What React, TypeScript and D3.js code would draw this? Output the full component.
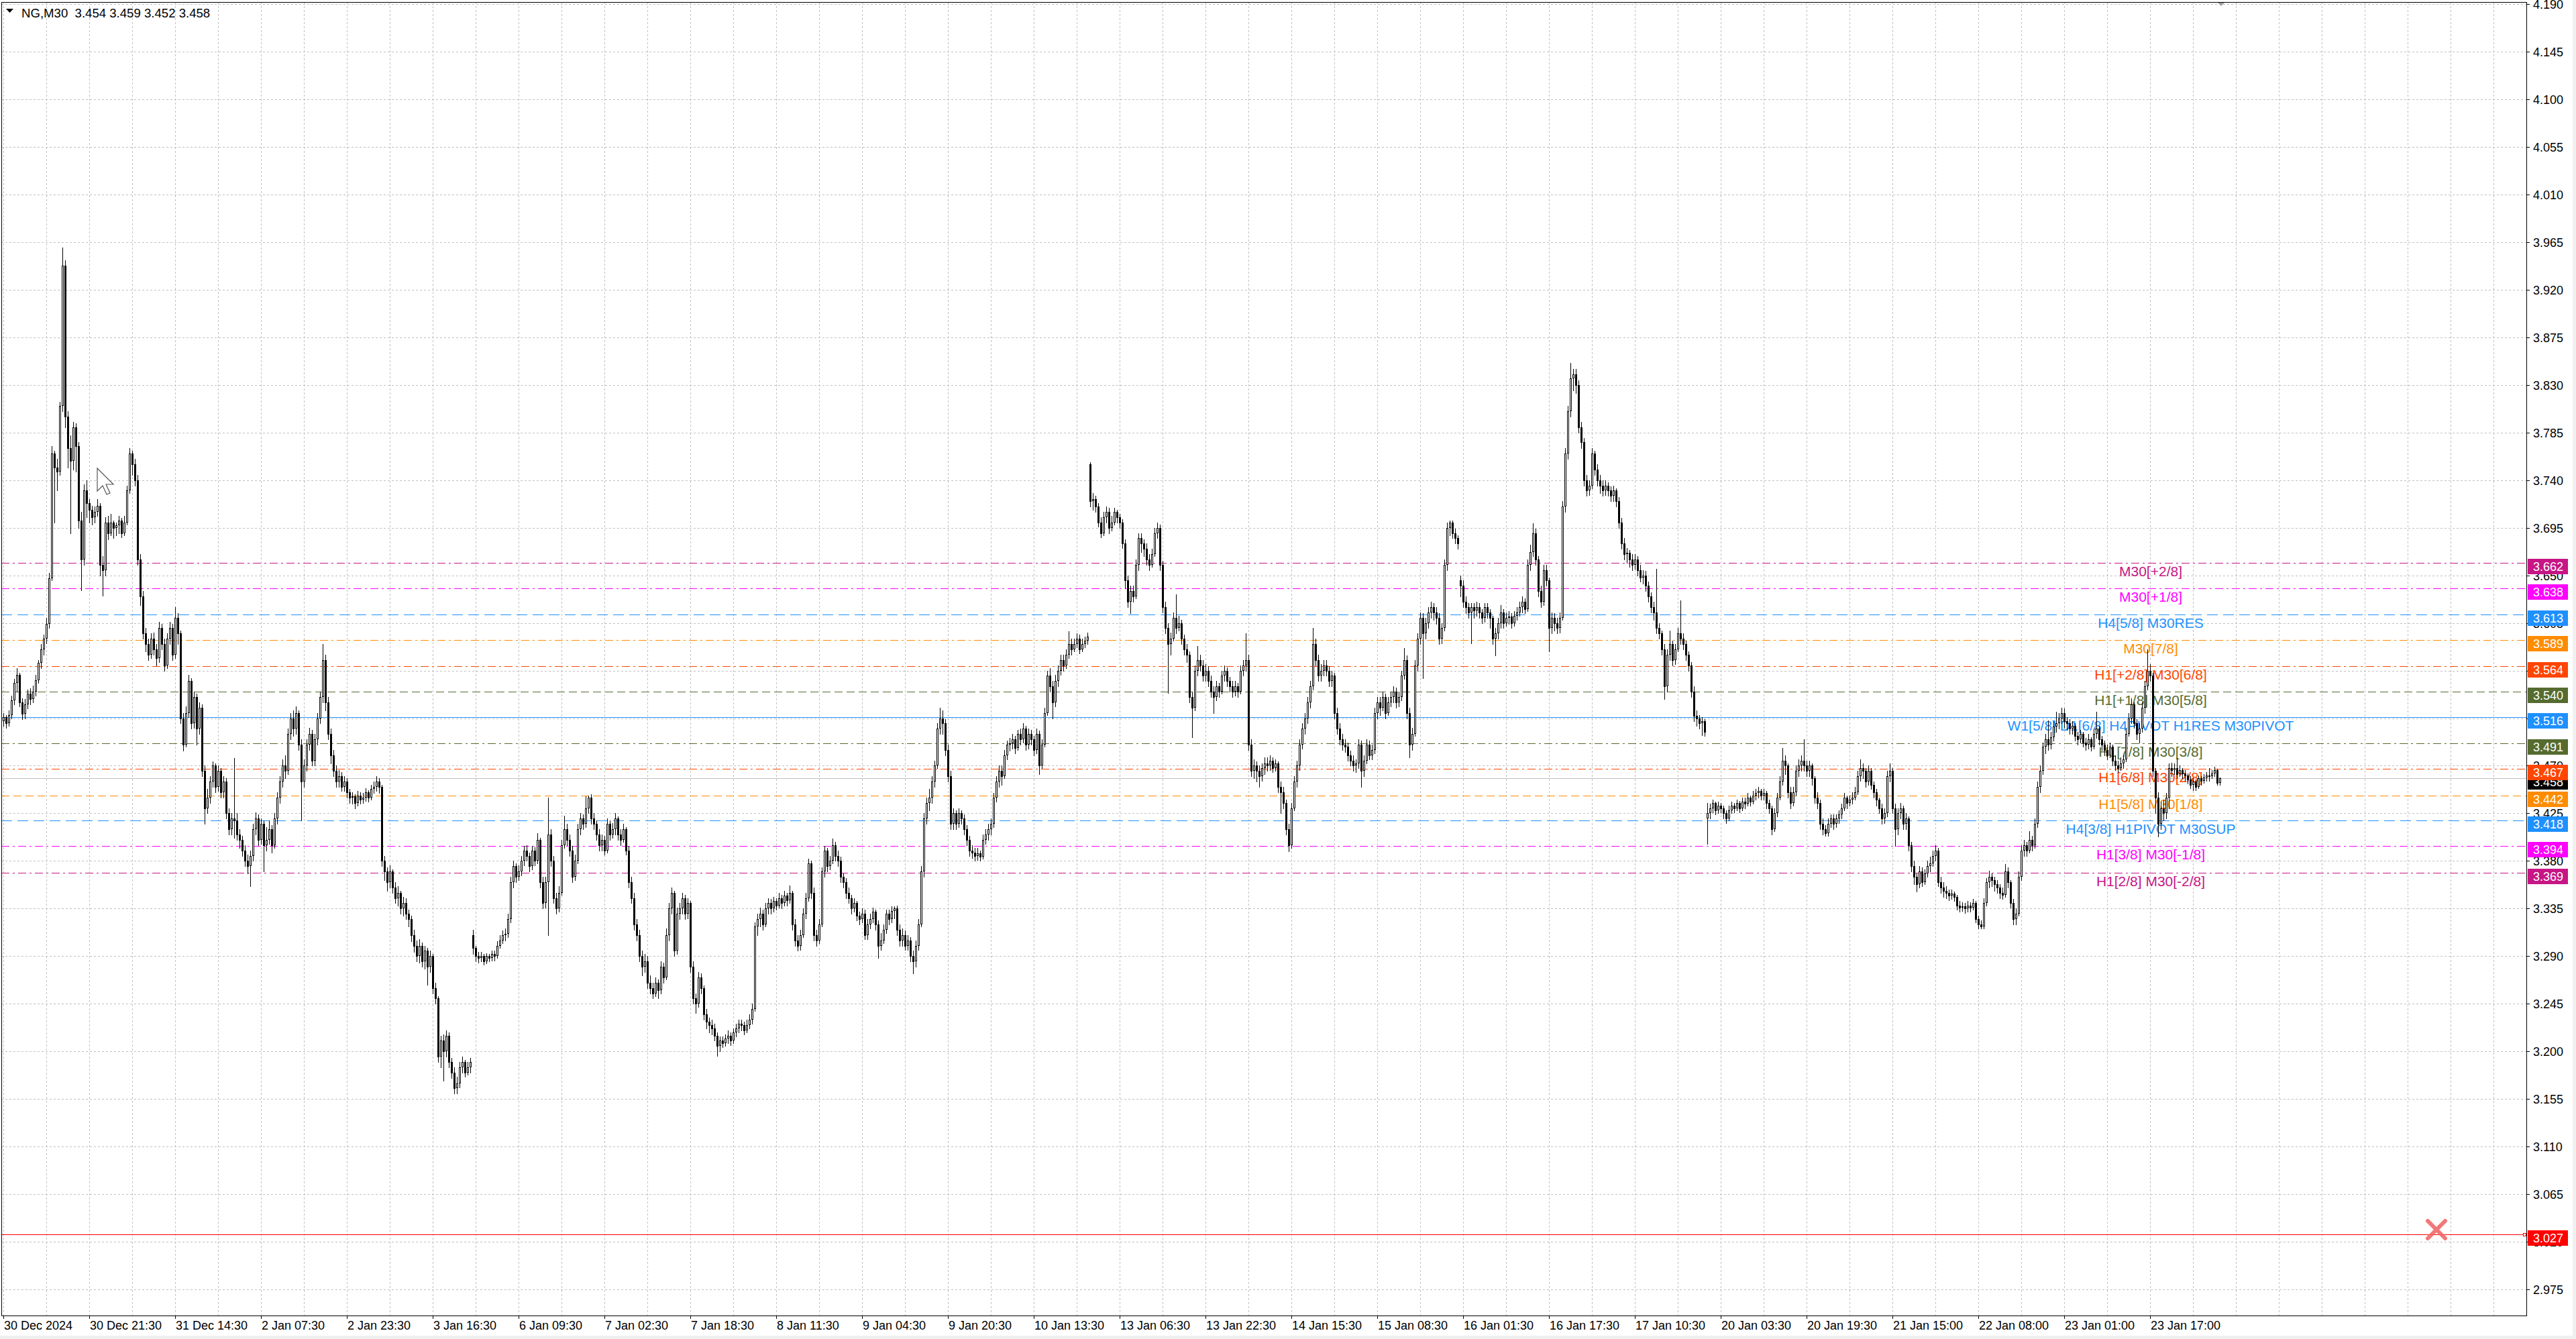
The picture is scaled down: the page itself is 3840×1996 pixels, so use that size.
import React from "react";
import * as d3 from "d3";

// ---- M30 bars per trading session: [open, high, low, close] in thousandths ----
const dec30 = [[3512,3520,3508,3516],[3516,3518,3506,3510],[3510,3522,3508,3518],[3518,3536,3515,3532],[3532,3552,3528,3548],[3548,3562,3540,3556],[3556,3558,3526,3530],[3530,3534,3514,3519],[3519,3533,3515,3528],[3528,3542,3524,3538],[3538,3543,3528,3533],[3533,3546,3530,3540],[3540,3556,3536,3551],[3551,3570,3548,3567],[3567,3585,3562,3580],[3580,3594,3575,3590],[3590,3610,3586,3604],[3604,3652,3600,3647],[3647,3772,3645,3765],[3765,3768,3700,3752],[3752,3760,3730,3748],[3748,3814,3745,3810],[3810,3960,3805,3943],[3943,3948,3790,3800],[3800,3805,3752,3770],[3770,3782,3690,3758],[3758,3795,3750,3790],[3790,3794,3748,3772],[3772,3776,3695,3702],[3702,3710,3636,3665],[3665,3736,3660,3730],[3730,3740,3705,3718],[3718,3722,3700,3712],[3712,3716,3698,3705],[3705,3715,3700,3710],[3710,3722,3706,3716],[3716,3718,3650,3660]];
const dec31 = [[3660,3668,3631,3655],[3655,3705,3650,3700],[3700,3706,3684,3690],[3690,3708,3688,3700],[3700,3702,3685,3695],[3695,3700,3688,3697],[3697,3706,3690,3702],[3702,3704,3686,3690],[3690,3706,3688,3700],[3700,3735,3698,3730],[3730,3770,3728,3765],[3765,3768,3745,3755],[3755,3760,3735,3740],[3740,3745,3660,3665],[3665,3670,3622,3630],[3630,3635,3590,3595],[3595,3600,3578,3585],[3585,3590,3570,3575],[3575,3595,3572,3590],[3590,3596,3575,3580],[3580,3585,3565,3572],[3572,3606,3568,3600],[3600,3604,3580,3585],[3585,3590,3560,3565],[3565,3595,3562,3590],[3590,3606,3585,3600],[3600,3604,3570,3575],[3575,3620,3572,3610],[3610,3614,3585,3595],[3595,3598,3510,3515],[3515,3520,3484,3490],[3490,3526,3488,3520],[3520,3556,3516,3550],[3550,3553,3505,3510],[3510,3540,3506,3535],[3535,3538,3490,3505],[3505,3530,3500,3525],[3525,3528,3460,3465],[3465,3470,3415,3430],[3430,3448,3425,3440],[3440,3460,3435,3455],[3455,3474,3450,3470],[3470,3472,3445,3450],[3450,3470,3446,3465],[3465,3468,3440,3445],[3445,3460,3440,3455]];
const jan02 = [[3455,3458,3420,3425],[3425,3430,3405,3410],[3410,3425,3405,3420],[3420,3477,3402,3418],[3418,3425,3400,3405],[3405,3410,3392,3400],[3400,3404,3385,3390],[3390,3395,3375,3380],[3380,3386,3368,3375],[3375,3390,3356,3385],[3385,3415,3380,3410],[3410,3426,3405,3420],[3420,3424,3395,3400],[3400,3420,3396,3415],[3415,3418,3370,3395],[3395,3412,3390,3400],[3400,3418,3396,3410],[3410,3414,3388,3395],[3395,3425,3392,3420],[3420,3445,3415,3440],[3440,3460,3435,3455],[3455,3476,3450,3470],[3470,3480,3458,3465],[3465,3505,3462,3500],[3500,3520,3495,3515],[3515,3522,3498,3505],[3505,3526,3500,3520],[3520,3522,3485,3490],[3490,3495,3418,3455],[3455,3476,3450,3470],[3470,3495,3465,3490],[3490,3506,3485,3500],[3500,3504,3470,3475],[3475,3500,3470,3495],[3495,3520,3490,3515],[3515,3540,3510,3535],[3535,3585,3530,3570],[3570,3575,3522,3530],[3530,3535,3495,3500],[3500,3505,3472,3480],[3480,3485,3460,3465],[3465,3470,3450,3455],[3455,3466,3450,3460],[3460,3464,3446,3450],[3450,3460,3446,3455],[3455,3458,3440,3445]];
const jan03 = [[3445,3448,3435,3440],[3440,3445,3434,3441],[3441,3443,3430,3435],[3435,3446,3432,3442],[3442,3445,3434,3438],[3438,3444,3435,3440],[3440,3449,3437,3445],[3445,3447,3436,3440],[3440,3452,3438,3448],[3448,3455,3444,3450],[3450,3460,3446,3455],[3455,3458,3444,3450],[3450,3452,3375,3380],[3380,3385,3362,3370],[3370,3374,3352,3360],[3360,3376,3355,3370],[3370,3372,3350,3355],[3355,3360,3340,3345],[3345,3356,3338,3350],[3350,3352,3330,3335],[3335,3346,3328,3340],[3340,3345,3325,3330],[3330,3334,3318,3325],[3325,3328,3304,3310],[3310,3315,3294,3300],[3300,3305,3285,3290],[3290,3306,3284,3300],[3300,3303,3280,3285],[3285,3300,3278,3295],[3295,3298,3263,3280],[3280,3295,3275,3290],[3290,3292,3255,3260],[3260,3265,3245,3250],[3250,3252,3190,3195],[3195,3215,3185,3210],[3210,3216,3172,3200],[3200,3220,3195,3215],[3215,3218,3185,3190],[3190,3194,3175,3180],[3180,3185,3160,3165],[3165,3176,3160,3170],[3170,3190,3166,3185],[3185,3195,3180,3190],[3190,3192,3176,3180],[3180,3190,3178,3185],[3185,3194,3180,3190]];
const jan06 = [[3310,3315,3292,3298],[3298,3300,3285,3290],[3290,3294,3284,3288],[3288,3294,3285,3290],[3290,3292,3282,3285],[3285,3293,3283,3290],[3290,3292,3285,3288],[3288,3295,3286,3292],[3292,3295,3286,3290],[3290,3304,3288,3300],[3300,3310,3298,3305],[3305,3314,3302,3310],[3310,3316,3305,3311],[3311,3330,3308,3325],[3325,3365,3322,3360],[3360,3380,3355,3375],[3375,3378,3360,3365],[3365,3376,3362,3370],[3370,3385,3366,3380],[3380,3394,3376,3390],[3390,3395,3380,3385],[3385,3388,3370,3375],[3375,3394,3372,3390],[3390,3393,3376,3380],[3380,3406,3378,3400],[3400,3402,3355,3360],[3360,3365,3335,3340],[3340,3365,3336,3360],[3360,3440,3310,3405],[3405,3410,3375,3380],[3380,3385,3340,3345],[3345,3350,3330,3335],[3335,3356,3332,3350],[3350,3400,3348,3395],[3395,3423,3392,3410],[3410,3415,3395,3400],[3400,3405,3385,3390],[3390,3394,3360,3365],[3365,3386,3362,3380],[3380,3415,3378,3410],[3410,3425,3405,3420],[3420,3424,3410,3415],[3415,3441,3412,3430],[3430,3442,3425,3440],[3440,3443,3415,3420],[3420,3425,3410,3415]];
const jan07 = [[3415,3418,3400,3405],[3405,3410,3390,3395],[3395,3405,3390,3400],[3400,3404,3386,3390],[3390,3420,3388,3415],[3415,3418,3400,3405],[3405,3416,3402,3410],[3410,3425,3405,3420],[3420,3422,3400,3405],[3405,3410,3395,3400],[3400,3415,3398,3410],[3410,3412,3386,3390],[3390,3394,3355,3360],[3360,3365,3340,3345],[3345,3350,3315,3320],[3320,3325,3305,3310],[3310,3315,3285,3290],[3290,3295,3272,3280],[3280,3292,3275,3285],[3285,3290,3260,3265],[3265,3272,3255,3260],[3260,3265,3250,3255],[3255,3270,3252,3265],[3265,3268,3250,3258],[3258,3285,3255,3280],[3280,3284,3265,3270],[3270,3316,3268,3310],[3310,3340,3305,3335],[3335,3355,3330,3350],[3350,3352,3290,3295],[3295,3336,3292,3330],[3330,3340,3325,3335],[3335,3350,3330,3345],[3345,3348,3325,3330],[3330,3345,3326,3340],[3340,3342,3275,3280],[3280,3285,3245,3250],[3250,3255,3236,3245],[3245,3275,3242,3270],[3270,3274,3255,3260],[3260,3262,3230,3235],[3235,3240,3222,3228],[3228,3232,3218,3225],[3225,3230,3216,3222],[3222,3226,3210,3215],[3215,3218,3196,3205]];
const jan08 = [[3205,3214,3200,3210],[3210,3214,3204,3208],[3208,3216,3205,3212],[3212,3220,3208,3215],[3215,3218,3206,3210],[3210,3222,3208,3218],[3218,3226,3214,3222],[3222,3230,3218,3226],[3226,3230,3220,3225],[3225,3228,3216,3220],[3220,3230,3218,3225],[3225,3235,3222,3230],[3230,3245,3226,3240],[3240,3322,3238,3318],[3318,3330,3310,3325],[3325,3336,3318,3330],[3330,3334,3315,3320],[3320,3340,3318,3335],[3335,3345,3330,3340],[3340,3344,3330,3335],[3335,3346,3332,3342],[3342,3345,3334,3338],[3338,3350,3336,3345],[3345,3348,3335,3340],[3340,3352,3338,3347],[3347,3350,3338,3343],[3343,3357,3340,3350],[3350,3352,3315,3320],[3320,3325,3300,3305],[3305,3310,3295,3300],[3300,3315,3296,3310],[3310,3335,3308,3330],[3330,3350,3326,3345],[3345,3382,3342,3378],[3378,3380,3345,3350],[3350,3355,3305,3310],[3310,3315,3300,3305],[3305,3325,3302,3320],[3320,3374,3318,3370],[3370,3394,3365,3390],[3390,3392,3370,3375],[3375,3385,3372,3380],[3380,3401,3378,3395],[3395,3398,3380,3385],[3385,3390,3375,3380],[3380,3384,3360,3365]];
const jan09 = [[3365,3368,3355,3360],[3360,3364,3345,3350],[3350,3355,3340,3345],[3345,3348,3330,3335],[3335,3345,3332,3340],[3340,3342,3324,3328],[3328,3332,3320,3325],[3325,3335,3322,3330],[3330,3334,3306,3310],[3310,3325,3306,3320],[3320,3330,3316,3325],[3325,3336,3322,3332],[3332,3334,3315,3320],[3320,3324,3288,3300],[3300,3312,3296,3305],[3305,3320,3302,3315],[3315,3334,3312,3330],[3330,3334,3320,3325],[3325,3337,3322,3333],[3333,3337,3326,3335],[3335,3338,3310,3315],[3315,3320,3300,3305],[3305,3316,3300,3310],[3310,3314,3296,3300],[3300,3310,3296,3305],[3305,3308,3285,3290],[3290,3295,3274,3285],[3285,3305,3280,3300],[3300,3325,3296,3320],[3320,3375,3318,3370],[3370,3425,3365,3420],[3420,3440,3415,3435],[3435,3448,3428,3440],[3440,3460,3435,3455],[3455,3475,3450,3470],[3470,3510,3468,3505],[3505,3525,3500,3515],[3515,3522,3500,3510],[3510,3514,3480,3485],[3485,3490,3455,3460],[3460,3465,3410,3415],[3415,3430,3410,3425],[3425,3428,3410,3415],[3415,3430,3412,3425],[3425,3428,3415,3420],[3420,3424,3405,3410]];
const jan10 = [[3410,3414,3395,3400],[3400,3404,3385,3390],[3390,3395,3383,3388],[3388,3392,3380,3385],[3385,3392,3381,3387],[3387,3390,3380,3384],[3384,3405,3382,3400],[3400,3410,3396,3405],[3405,3415,3400,3410],[3410,3420,3405,3415],[3415,3444,3412,3440],[3440,3460,3436,3455],[3455,3470,3450,3465],[3465,3470,3452,3460],[3460,3485,3458,3480],[3480,3494,3476,3490],[3490,3496,3484,3491],[3491,3500,3486,3495],[3495,3498,3482,3487],[3487,3504,3485,3500],[3500,3505,3490,3495],[3495,3510,3492,3505],[3505,3508,3485,3490],[3490,3505,3486,3500],[3500,3504,3490,3495],[3495,3498,3480,3485],[3485,3505,3482,3500],[3500,3503,3462,3470],[3470,3495,3468,3490],[3490,3525,3488,3520],[3520,3560,3518,3555],[3555,3562,3540,3545],[3545,3550,3515,3530],[3530,3556,3526,3550],[3550,3565,3545,3560],[3560,3575,3556,3570],[3570,3575,3560,3565],[3565,3580,3562,3575],[3575,3597,3572,3585],[3585,3590,3575,3580],[3580,3590,3578,3585],[3585,3595,3582,3590],[3590,3594,3576,3580],[3580,3590,3578,3585],[3585,3592,3582,3588],[3588,3596,3585,3592]];
const jan13 = [[3755,3757,3715,3720],[3720,3728,3712,3722],[3722,3725,3710,3715],[3715,3718,3696,3700],[3700,3705,3686,3690],[3690,3710,3688,3705],[3705,3715,3700,3710],[3710,3714,3690,3695],[3695,3706,3692,3700],[3700,3714,3698,3710],[3710,3712,3700,3705],[3705,3708,3695,3700],[3700,3703,3676,3680],[3680,3684,3638,3645],[3645,3650,3620,3625],[3625,3640,3614,3635],[3635,3640,3625,3630],[3630,3665,3628,3660],[3660,3690,3655,3685],[3685,3690,3672,3680],[3680,3684,3668,3675],[3675,3680,3660,3665],[3665,3670,3655,3660],[3660,3675,3658,3670],[3670,3695,3668,3690],[3690,3700,3685,3695],[3695,3698,3655,3660],[3660,3664,3615,3620],[3620,3625,3595,3600],[3600,3605,3539,3585],[3585,3596,3575,3590],[3590,3615,3588,3610],[3610,3632,3595,3600],[3600,3612,3598,3605],[3605,3608,3585,3590],[3590,3594,3575,3580],[3580,3585,3568,3575],[3575,3578,3530,3535],[3535,3540,3497,3525],[3525,3565,3522,3560],[3560,3583,3555,3570],[3570,3575,3560,3565],[3565,3570,3550,3555],[3555,3566,3550,3560],[3560,3564,3545,3550],[3550,3555,3535,3540]];
const jan14 = [[3540,3545,3520,3535],[3535,3550,3532,3545],[3545,3548,3535,3540],[3540,3560,3538,3555],[3555,3565,3550,3560],[3560,3563,3545,3550],[3550,3554,3540,3545],[3545,3550,3535,3540],[3540,3550,3536,3545],[3545,3548,3535,3540],[3540,3565,3538,3560],[3560,3570,3555,3565],[3565,3595,3560,3570],[3570,3575,3485,3490],[3490,3495,3460,3465],[3465,3476,3458,3470],[3470,3474,3455,3465],[3465,3470,3450,3460],[3460,3472,3456,3468],[3468,3478,3462,3472],[3472,3478,3465,3470],[3470,3480,3466,3475],[3475,3478,3464,3468],[3468,3476,3465,3472],[3472,3474,3445,3450],[3450,3455,3425,3445],[3445,3450,3430,3435],[3435,3438,3405,3410],[3410,3415,3389,3395],[3395,3435,3392,3430],[3430,3460,3428,3455],[3455,3475,3450,3470],[3470,3495,3466,3490],[3490,3510,3486,3505],[3505,3520,3500,3515],[3515,3535,3510,3530],[3530,3550,3525,3545],[3545,3600,3542,3585],[3585,3590,3565,3570],[3570,3575,3550,3555],[3555,3566,3550,3560],[3560,3570,3555,3565],[3565,3570,3555,3560],[3560,3564,3545,3550],[3550,3560,3545,3555],[3555,3558,3515,3520]];
const jan15 = [[3520,3525,3500,3505],[3505,3510,3490,3495],[3495,3500,3485,3490],[3490,3495,3483,3488],[3488,3492,3475,3480],[3480,3484,3470,3475],[3475,3480,3465,3470],[3470,3476,3464,3472],[3472,3495,3468,3490],[3490,3494,3450,3465],[3465,3480,3460,3475],[3475,3495,3472,3490],[3490,3494,3476,3480],[3480,3490,3476,3485],[3485,3525,3482,3520],[3520,3535,3515,3530],[3530,3535,3518,3525],[3525,3540,3522,3535],[3535,3538,3515,3520],[3520,3535,3518,3530],[3530,3540,3526,3535],[3535,3545,3530,3540],[3540,3544,3525,3530],[3530,3540,3526,3535],[3535,3560,3532,3555],[3555,3581,3552,3570],[3570,3574,3515,3520],[3520,3525,3478,3490],[3490,3506,3485,3500],[3500,3570,3498,3565],[3565,3595,3560,3590],[3590,3615,3585,3610],[3610,3614,3553,3595],[3595,3610,3590,3605],[3605,3620,3600,3615],[3615,3625,3610,3620],[3620,3624,3608,3615],[3615,3620,3604,3610],[3610,3614,3585,3590],[3590,3605,3586,3600],[3600,3665,3598,3660],[3660,3700,3655,3695],[3695,3702,3688,3700],[3700,3702,3685,3690],[3690,3694,3680,3685],[3685,3688,3675,3680]];
const jan16 = [[3645,3650,3630,3640],[3640,3645,3620,3625],[3625,3630,3614,3620],[3620,3624,3610,3615],[3615,3624,3586,3620],[3620,3624,3610,3617],[3617,3625,3612,3620],[3620,3624,3610,3615],[3615,3618,3605,3610],[3610,3624,3606,3620],[3620,3624,3610,3615],[3615,3618,3600,3610],[3610,3612,3585,3590],[3590,3600,3574,3595],[3595,3610,3590,3605],[3605,3622,3600,3615],[3615,3618,3600,3605],[3605,3615,3602,3610],[3610,3616,3604,3611],[3611,3614,3600,3605],[3605,3616,3602,3612],[3612,3620,3608,3615],[3615,3625,3612,3620],[3620,3630,3615,3625],[3625,3628,3614,3618],[3618,3665,3616,3660],[3660,3679,3655,3672],[3672,3699,3668,3690],[3690,3694,3660,3665],[3665,3668,3630,3635],[3635,3640,3620,3625],[3625,3660,3622,3655],[3655,3660,3640,3645],[3645,3648,3578,3600],[3600,3615,3595,3610],[3610,3614,3598,3605],[3605,3610,3595,3600],[3600,3615,3596,3610],[3610,3720,3608,3715],[3715,3770,3710,3765],[3765,3810,3760,3805],[3805,3851,3800,3836],[3836,3845,3825,3840],[3840,3845,3822,3830],[3830,3834,3785,3790],[3790,3795,3770,3776]];
const jan17 = [[3776,3780,3735,3740],[3740,3745,3725,3730],[3730,3740,3726,3735],[3735,3770,3732,3765],[3765,3768,3745,3750],[3750,3755,3735,3740],[3740,3745,3728,3735],[3735,3740,3725,3730],[3730,3740,3726,3735],[3735,3738,3725,3730],[3730,3734,3720,3725],[3725,3735,3720,3730],[3730,3732,3715,3720],[3720,3724,3695,3700],[3700,3704,3675,3680],[3680,3685,3665,3670],[3670,3676,3662,3671],[3671,3674,3658,3665],[3665,3670,3655,3660],[3660,3670,3656,3665],[3665,3668,3650,3655],[3655,3660,3644,3648],[3648,3655,3642,3650],[3650,3654,3635,3640],[3640,3644,3625,3630],[3630,3634,3615,3620],[3620,3625,3608,3615],[3615,3656,3595,3600],[3600,3605,3590,3595],[3595,3598,3575,3580],[3580,3585,3533,3545],[3545,3580,3540,3575],[3575,3598,3570,3585],[3585,3588,3565,3570],[3570,3585,3566,3580],[3580,3600,3578,3595],[3595,3626,3585,3590],[3590,3595,3580,3585],[3585,3588,3570,3575],[3575,3578,3560,3565],[3565,3568,3535,3540],[3540,3545,3512,3517],[3517,3522,3508,3515],[3515,3518,3505,3510],[3510,3516,3499,3512],[3512,3514,3498,3502]];
const jan20 = [[3420,3435,3396,3425],[3425,3434,3420,3430],[3430,3438,3426,3435],[3435,3436,3424,3428],[3428,3436,3425,3432],[3432,3435,3426,3430],[3430,3432,3420,3425],[3425,3428,3416,3420],[3420,3432,3418,3428],[3428,3436,3425,3432],[3432,3435,3426,3430],[3430,3438,3428,3435],[3435,3437,3426,3430],[3430,3440,3428,3436],[3436,3440,3430,3434],[3434,3444,3432,3440],[3440,3442,3432,3436],[3436,3446,3434,3442],[3442,3448,3438,3444],[3444,3450,3440,3446],[3446,3448,3438,3442],[3442,3448,3438,3444],[3444,3446,3430,3435],[3435,3438,3425,3430],[3430,3432,3405,3410],[3410,3430,3408,3425],[3425,3444,3422,3440],[3440,3460,3438,3455],[3455,3487,3452,3475],[3475,3480,3462,3470],[3470,3472,3440,3445],[3445,3450,3430,3435],[3435,3450,3432,3445],[3445,3470,3442,3465],[3465,3476,3460,3470],[3470,3480,3465,3475],[3475,3495,3465,3470],[3470,3475,3460,3465],[3465,3475,3460,3470],[3470,3472,3452,3458],[3458,3460,3435,3440]];
const jan21 = [[3440,3445,3430,3435],[3435,3438,3410,3415],[3415,3420,3405,3410],[3410,3414,3404,3406],[3406,3420,3404,3415],[3415,3424,3412,3420],[3420,3424,3410,3415],[3415,3424,3412,3420],[3420,3428,3416,3424],[3424,3434,3420,3430],[3430,3444,3428,3440],[3440,3442,3430,3435],[3435,3442,3432,3438],[3438,3445,3434,3440],[3440,3450,3438,3445],[3445,3465,3443,3460],[3460,3476,3456,3468],[3468,3472,3458,3465],[3465,3468,3450,3455],[3455,3470,3452,3465],[3465,3468,3448,3452],[3452,3455,3440,3445],[3445,3448,3432,3438],[3438,3440,3425,3430],[3430,3434,3415,3420],[3420,3430,3416,3425],[3425,3465,3422,3460],[3460,3472,3455,3465],[3465,3468,3425,3430],[3430,3434,3394,3410],[3410,3430,3405,3425],[3425,3435,3420,3430],[3430,3432,3410,3415],[3415,3425,3410,3420],[3420,3422,3390,3395],[3395,3398,3370,3375],[3375,3380,3358,3365],[3365,3368,3351,3358],[3358,3375,3355,3370],[3370,3374,3356,3360],[3360,3372,3358,3368],[3368,3380,3365,3375],[3375,3384,3370,3378],[3378,3390,3375,3385],[3385,3395,3380,3390],[3390,3392,3356,3360]];
const jan22 = [[3360,3365,3350,3355],[3355,3360,3346,3352],[3352,3356,3345,3350],[3350,3353,3343,3347],[3347,3353,3344,3349],[3349,3351,3342,3346],[3346,3348,3334,3338],[3338,3342,3332,3336],[3336,3341,3333,3337],[3337,3340,3331,3335],[3335,3342,3332,3338],[3338,3341,3332,3336],[3336,3344,3334,3340],[3340,3342,3322,3325],[3325,3328,3316,3320],[3320,3324,3316,3318],[3318,3345,3316,3340],[3340,3364,3338,3360],[3360,3371,3355,3365],[3365,3368,3356,3362],[3362,3365,3352,3358],[3358,3362,3350,3355],[3355,3358,3345,3350],[3350,3355,3344,3348],[3348,3377,3346,3370],[3370,3374,3355,3360],[3360,3362,3336,3340],[3340,3344,3320,3325],[3325,3335,3320,3330],[3330,3370,3328,3365],[3365,3395,3362,3390],[3390,3400,3385,3395],[3395,3398,3385,3390],[3390,3408,3388,3400],[3400,3404,3390,3395],[3395,3420,3392,3415],[3415,3455,3412,3450],[3450,3470,3445,3465],[3465,3492,3462,3488],[3488,3500,3482,3495],[3495,3513,3485,3490],[3490,3502,3486,3497],[3497,3512,3494,3507],[3507,3521,3502,3510],[3510,3520,3505,3515],[3515,3525,3510,3520]];
const jan23 = [[3520,3524,3506,3512],[3512,3516,3504,3510],[3510,3514,3500,3505],[3505,3512,3500,3508],[3508,3510,3494,3498],[3498,3502,3490,3495],[3495,3504,3492,3500],[3500,3502,3488,3492],[3492,3496,3485,3490],[3490,3500,3486,3495],[3495,3497,3484,3488],[3488,3505,3486,3500],[3500,3521,3496,3505],[3505,3508,3490,3495],[3495,3498,3485,3490],[3490,3494,3480,3485],[3485,3490,3476,3480],[3480,3492,3478,3488],[3488,3490,3470,3475],[3475,3480,3466,3470],[3470,3475,3464,3468],[3468,3478,3466,3472],[3472,3480,3468,3476],[3476,3505,3474,3500],[3500,3520,3498,3515],[3515,3534,3510,3528],[3528,3530,3506,3510],[3510,3514,3495,3500],[3500,3510,3492,3505],[3505,3530,3502,3525],[3525,3550,3520,3545],[3545,3580,3542,3560],[3560,3566,3550,3555],[3555,3558,3460,3465],[3465,3468,3425,3440],[3440,3445,3403,3415],[3415,3436,3410,3430],[3430,3438,3418,3425],[3425,3444,3420,3440],[3440,3472,3430,3468],[3468,3473,3460,3466],[3466,3472,3462,3468],[3468,3477,3458,3462],[3462,3470,3460,3466],[3466,3468,3458,3463],[3463,3466,3456,3461]];
const jan24 = [[3461,3463,3453,3457],[3457,3460,3449,3452],[3452,3458,3447,3455],[3455,3457,3447,3450],[3450,3461,3449,3458],[3458,3460,3452,3456],[3456,3462,3454,3459],[3459,3464,3456,3461],[3461,3468,3456,3460],[3460,3466,3458,3463],[3463,3469,3460,3466],[3466,3467,3452,3454],[3454,3459,3452,3458]];

const symbol = "NG,M30";
const priceTicks = [4.19, 4.145, 4.1, 4.055, 4.01, 3.965, 3.92, 3.875, 3.83, 3.785, 3.74, 3.695, 3.65, 3.605, 3.56, 3.515, 3.47, 3.425, 3.38, 3.335, 3.29, 3.245, 3.2, 3.155, 3.11, 3.065, 3.02, 2.975];
const timeTickLabels = ["30 Dec 2024", "30 Dec 21:30", "31 Dec 14:30", "2 Jan 07:30", "2 Jan 23:30", "3 Jan 16:30", "6 Jan 09:30", "7 Jan 02:30", "7 Jan 18:30", "8 Jan 11:30", "9 Jan 04:30", "9 Jan 20:30", "10 Jan 13:30", "13 Jan 06:30", "13 Jan 22:30", "14 Jan 15:30", "15 Jan 08:30", "16 Jan 01:30", "16 Jan 17:30", "17 Jan 10:30", "20 Jan 03:30", "20 Jan 19:30", "21 Jan 15:00", "22 Jan 08:00", "23 Jan 01:00", "23 Jan 17:00"];
const levelPrices = [3.662, 3.638, 3.613, 3.589, 3.564, 3.54, 3.516, 3.491, 3.467, 3.442, 3.418, 3.394, 3.369];
const levelNames = ["M30[+2/8]", "M30[+1/8]", "H4[5/8] M30RES", "M30[7/8]", "H1[+2/8] M30[6/8]", "H1[+1/8] M30[5/8]", "W1[5/8] D1[6/8] H4PIVOT H1RES M30PIVOT", "H1[7/8] M30[3/8]", "H1[6/8] M30[2/8]", "H1[5/8] M30[1/8]", "H4[3/8] H1PIVOT M30SUP", "H1[3/8] M30[-1/8]", "H1[2/8] M30[-2/8]"];
const stopPrice = 3.027;

// ---- styles ----
const levelColors = ["#C71585", "#FF00FF", "#1E90FF", "#FF8C00", "#FF4500", "#556B2F", "#1E90FF", "#556B2F", "#FF4500", "#FF8C00", "#1E90FF", "#FF00FF", "#C71585"];
const DD = "12 5 3 5";
const levelDash = [DD, DD, "16 8", DD, DD, "12 6", "none", DD, DD, "12 6", "16 8", DD, DD];

const FONT = "'Liberation Sans', Arial, sans-serif";

export default function App() {
  const sessions = [dec30, dec31, jan02, jan03, jan06, jan07, jan08, jan09, jan10, jan13, jan14, jan15, jan16, jan17, jan20, jan21, jan22, jan23, jan24];
  const bars = sessions.flat().map((b) => ({ o: b[0] / 1000, h: b[1] / 1000, l: b[2] / 1000, c: b[3] / 1000 }));
  const n = bars.length;
  const last = bars[n - 1];

  const left = 2, right = 3766, top = 3, bottom = 1961;
  const y = d3.scaleLinear().domain([2.975, 4.19]).range([1922.1, 6.0]);
  const x = d3.scaleLinear().domain([0, 1]).range([5.4, 9.4]);
  const px = (i: number) => Math.round(x(i));
  const py = (p: number) => Math.round(y(p));

  const vGrid: number[] = [];
  for (let i = 0; x(i) < right; i += 16) vGrid.push(px(i) + 0.5);

  const bidPrice = last.c;

  const candles = bars.map((b, i) => {
    const cx = px(i);
    const yh = py(Math.max(b.h, b.o, b.c));
    const yl = py(Math.min(b.l, b.o, b.c));
    const yo = py(b.o);
    const yc = py(b.c);
    const els: any[] = [];
    els.push(<rect key={"w" + i} x={cx} y={yh} width={1} height={Math.max(1, yl - yh + 1)} fill="#000" />);
    if (b.c < b.o) {
      els.push(<rect key={"b" + i} x={cx - 1} y={yo} width={3} height={Math.max(1, yc - yo + 1)} fill="#000" />);
    } else {
      const hgt = yo - yc;
      if (hgt >= 2) {
        els.push(<rect key={"b" + i} x={cx - 0.5} y={yc + 0.5} width={2} height={hgt - 1} fill="#fff" stroke="#000" strokeWidth={1} />);
      } else {
        els.push(<rect key={"b" + i} x={cx - 1} y={yc} width={3} height={Math.max(1, hgt + 1)} fill="#000" />);
      }
    }
    return els;
  });

  const fmt = d3.format(".3f");
  const textCx = px(800) + 1;
  const boxTop = (p: number) => py(p) - 6;
  const boxBase = (p: number) => py(p) + 12;

  return (
    <svg width={3840} height={1996} style={{ position: "fixed", left: 0, top: 0, display: "block", background: "#fff" }}
      xmlns="http://www.w3.org/2000/svg">
      <rect x={0} y={0} width={3840} height={1996} fill="#fff" />
      {/* grid */}
      <g shapeRendering="crispEdges" stroke="#C0C0C0" strokeWidth={1} strokeDasharray="3 3">
        {vGrid.map((gx, k) => (
          <line key={"vg" + k} x1={gx} x2={gx} y1={top} y2={bottom} />
        ))}
        {priceTicks.map((p, k) => (
          <line key={"hg" + k} x1={left} x2={right} y1={py(p) + 0.5} y2={py(p) + 0.5} />
        ))}
      </g>
      {/* levels */}
      <g shapeRendering="crispEdges">
        {levelPrices.map((p, k) => (
          <line key={"lv" + k} x1={left} x2={right} y1={py(p) + 0.5} y2={py(p) + 0.5} stroke={levelColors[k]} strokeWidth={1}
            strokeDasharray={levelDash[k] === "none" ? undefined : levelDash[k]} />
        ))}
        <line x1={left} x2={right} y1={py(bidPrice) + 0.5} y2={py(bidPrice) + 0.5} stroke="#C0C0C0" strokeWidth={1} />
        <line x1={left} x2={right} y1={py(stopPrice) + 0.5} y2={py(stopPrice) + 0.5} stroke="#FF0000" strokeWidth={1} />
        <rect x={3761.5} y={py(stopPrice) - 1.5} width={4} height={4} fill="#fff" stroke="#FF0000" strokeWidth={1} />
      </g>
      {/* level names */}
      <g fontFamily={FONT} fontSize={21} textAnchor="middle">
        {levelPrices.map((p, k) => (
          <text key={"lt" + k} x={textCx} y={py(p) + 20} fill={levelColors[k]}>{levelNames[k]}</text>
        ))}
      </g>
      {/* candles */}
      <g shapeRendering="crispEdges">{candles}</g>
      {/* stop-loss X marker */}
      <g stroke="#F06A6A" strokeWidth={6} strokeLinecap="round" opacity={0.9}>
        <line x1={3619} y1={py(stopPrice) - 20} x2={3645} y2={py(stopPrice) + 6} />
        <line x1={3619} y1={py(stopPrice) + 6} x2={3645} y2={py(stopPrice) - 20} />
      </g>
      {/* mouse cursor */}
      <path d="M145,698 L145,732 L153,724 L159,737 L164,735 L158,722 L169,722 Z" fill="#fff" stroke="#555" strokeWidth={1.2} />
      {/* chart shift marker */}
      <path d="M3305,3 L3317,3 L3311,9 Z" fill="#A0A0A0" />
      {/* frame */}
      <g shapeRendering="crispEdges" stroke="#000" strokeWidth={1}>
        <line x1={left + 0.5} x2={left + 0.5} y1={top} y2={bottom + 1} />
        <line x1={left} x2={right + 1} y1={top + 0.5} y2={top + 0.5} />
        <line x1={right + 0.5} x2={right + 0.5} y1={top} y2={bottom + 1} />
        <line x1={left} x2={right + 1} y1={bottom + 0.5} y2={bottom + 0.5} />
        {priceTicks.map((p, k) => (
          <line key={"pt" + k} x1={right} x2={right + 5} y1={py(p) + 0.5} y2={py(p) + 0.5} />
        ))}
        {timeTickLabels.map((t, k) => (
          <line key={"tt" + k} x1={px(32 * k) + 0.5} x2={px(32 * k) + 0.5} y1={bottom} y2={bottom + 5} />
        ))}
      </g>
      {/* price axis labels */}
      <g fontFamily={FONT} fontSize={18} fill="#000">
        {priceTicks.map((p, k) => (
          <text key={"pl" + k} x={3776} y={py(p) + 6.5}>{fmt(p)}</text>
        ))}
      </g>
      {/* level price boxes */}
      <g fontFamily={FONT} fontSize={18}>
        <rect x={3768} y={boxTop(bidPrice)} width={60} height={23} fill="#000" />
        <text x={3776} y={boxBase(bidPrice)} fill="#fff">{fmt(bidPrice)}</text>
        {levelPrices.map((p, k) => (
          <g key={"lb" + k}>
            <rect x={3768} y={boxTop(p)} width={60} height={23} fill={levelColors[k]} />
            <text x={3776} y={boxBase(p)} fill="#fff">{fmt(p)}</text>
          </g>
        ))}
        <rect x={3768} y={boxTop(stopPrice)} width={60} height={23} fill="#FF0000" />
        <text x={3776} y={boxBase(stopPrice)} fill="#fff">{fmt(stopPrice)}</text>
      </g>
      {/* time axis labels */}
      <g fontFamily={FONT} fontSize={18} fill="#000">
        {timeTickLabels.map((t, k) => (
          <text key={"tl" + k} x={px(32 * k) + 1} y={1982}>{t}</text>
        ))}
      </g>
      {/* title */}
      <path d="M9,13 L20,13 L14.5,19 Z" fill="#000" />
      <text x={32} y={26} fontFamily={FONT} fontSize={18.6} fill="#000" style={{ whiteSpace: "pre" }}>
        {`${symbol}  ${fmt(last.o)} ${fmt(last.h)} ${fmt(last.l)} ${fmt(last.c)}`}
      </text>
      {/* window edges */}
      <rect x={0} y={1991} width={3840} height={5} fill="#F0F0F0" />
      <rect x={3835} y={0} width={5} height={1996} fill="#F0F0F0" />
    </svg>
  );
}
